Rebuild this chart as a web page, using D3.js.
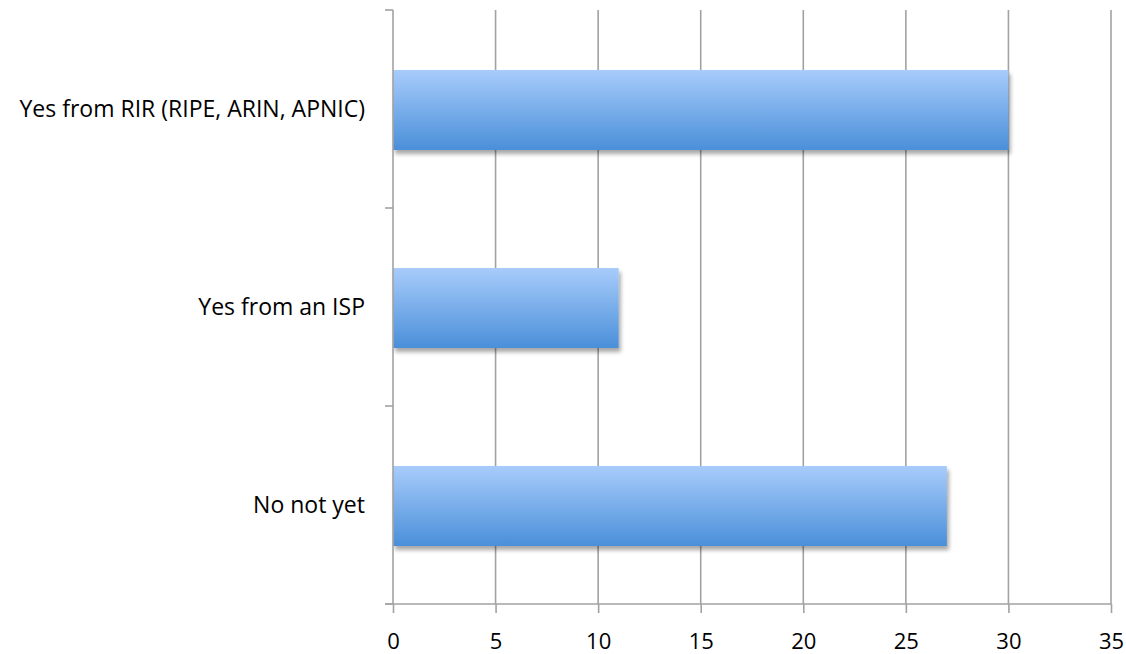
<!DOCTYPE html>
<meta charset="utf-8">
<style>
  body { margin: 0; background: #fff; }
  text { font-family: 'Open Sans', sans-serif; fill: #000; }
  .grid line, .axis line { stroke: #a2a2a2; stroke-width: 1.6px; }
</style>
<body>
<script src="https://d3js.org/d3.v7.min.js"></script>
<script>
  // data
  var categories = ["Yes from RIR (RIPE, ARIN, APNIC)", "Yes from an ISP", "No not yet"];
  var values = [30, 11, 27];
  var xTicks = [0, 5, 10, 15, 20, 25, 30, 35];

  var margin = {top: 10, right: 15, bottom: 50, left: 393},
    width = 1126 - margin.left - margin.right,
    height = 654 - margin.top - margin.bottom;

  var svg = d3.select("body").append("svg")
    .attr("width", 1126)
    .attr("height", 654);

  var defs = svg.append("defs");
  var grad = defs.append("linearGradient")
    .attr("id", "barFill")
    .attr("x1", 0).attr("y1", 0).attr("x2", 0).attr("y2", 1);
  grad.append("stop").attr("offset", "0%").attr("stop-color", "#a8ccfb");
  grad.append("stop").attr("offset", "100%").attr("stop-color", "#4a8fd9");

  // soft shadow under the bars
  var filter = defs.append("filter")
    .attr("id", "shadow")
    .attr("x", "-5%").attr("y", "-10%")
    .attr("width", "120%").attr("height", "140%");
  filter.append("feGaussianBlur")
    .attr("in", "SourceAlpha")
    .attr("stdDeviation", 2)
    .attr("result", "blur");
  filter.append("feOffset")
    .attr("in", "blur").attr("dx", 2).attr("dy", 4)
    .attr("result", "offsetBlur");
  filter.append("feComponentTransfer")
    .attr("in", "offsetBlur").attr("result", "faded")
    .append("feFuncA").attr("type", "linear").attr("slope", 0.35);
  var merge = filter.append("feMerge");
  merge.append("feMergeNode").attr("in", "faded");
  merge.append("feMergeNode").attr("in", "SourceGraphic");

  var g = svg.append("g")
    .attr("transform", "translate(" + margin.left + "," + margin.top + ")");

  var x = d3.scaleLinear().domain([0, 35]).range([0, width]);
  var y = d3.scaleBand().domain(categories).range([0, height]).padding(0);

  // vertical gridlines
  g.append("g").attr("class", "grid")
    .selectAll("line")
    .data(xTicks.slice(1))
    .enter().append("line")
    .attr("x1", function (d) { return x(d); })
    .attr("x2", function (d) { return x(d); })
    .attr("y1", 0)
    .attr("y2", height);

  // bars
  g.selectAll(".bar")
    .data(values)
    .enter().append("rect")
    .attr("class", "bar")
    .attr("x", x(0))
    .attr("y", function (d, i) { return y(categories[i]) + y.bandwidth() * 0.303; })
    .attr("height", y.bandwidth() * 0.404)
    .attr("width", function (d) { return x(d) - x(0); })
    .attr("fill", "url(#barFill)")
    .attr("filter", "url(#shadow)");

  // x axis
  var xAxis = g.append("g").attr("class", "axis")
    .attr("transform", "translate(0," + height + ")")
    .call(d3.axisBottom(x).tickValues(xTicks).tickSize(9).tickPadding(20));
  xAxis.select(".domain").remove();
  xAxis.append("line").attr("x1", -8).attr("x2", width).attr("y1", 0).attr("y2", 0);
  xAxis.selectAll("text")
    .style("font-size", "22px")
    .attr("fill", "#000");

  // y axis: line with ticks at the band edges, labels at the centres
  var yAxis = g.append("g").attr("class", "axis");
  yAxis.append("line").attr("x1", 0).attr("x2", 0).attr("y1", 0).attr("y2", height);
  var edges = categories.map(function (c) { return y(c); }).concat([height]);
  yAxis.selectAll(".edge")
    .data(edges)
    .enter().append("line")
    .attr("class", "edge")
    .attr("x1", -8).attr("x2", 0)
    .attr("y1", function (d) { return d; })
    .attr("y2", function (d) { return d; });
  yAxis.selectAll(".label")
    .data(categories)
    .enter().append("text")
    .attr("class", "label")
    .attr("x", -28)
    .attr("y", function (d) { return y(d) + y.bandwidth() / 2; })
    .attr("dy", "0.35em")
    .style("text-anchor", "end")
    .style("font-size", "23px")
    .text(function (d) { return d; });
</script>
</body>
